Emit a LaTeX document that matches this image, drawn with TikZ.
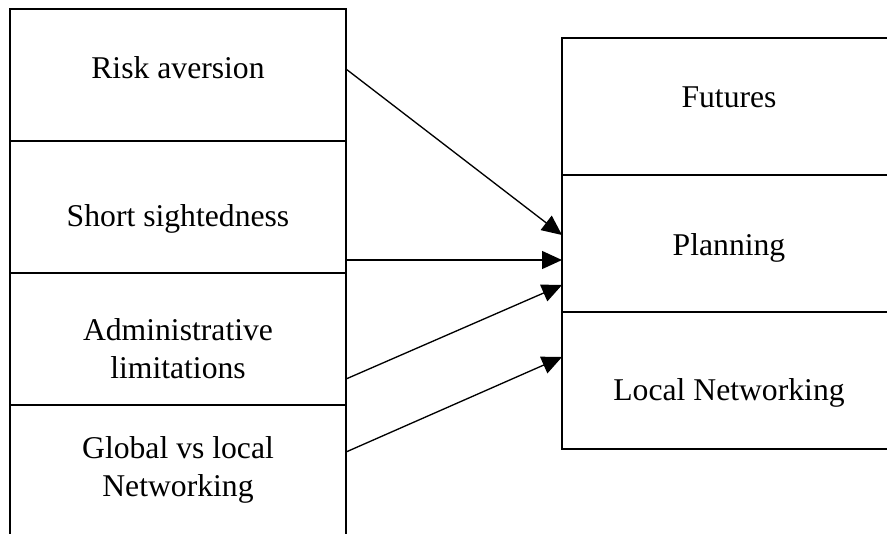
\documentclass[tikz,border=0pt]{standalone}
\usepackage{fontspec}
\setmainfont{Liberation Serif}
\usetikzlibrary{arrows.meta}
\begin{document}
\begin{tikzpicture}[x=0.75pt,y=-0.75pt,
  cell/.style={draw, line width=1.2pt, inner sep=0pt, outer sep=0pt, anchor=north west, minimum width=#1},
  lcell/.style={cell=252pt},
  rcell/.style={cell=255pt},
  lbl/.style={font=\fontsize{23.75}{28.5}\selectfont, align=center, anchor=base, inner sep=0pt},
  arr/.style={line width=1pt, -{Triangle[length=15pt,width=13.5pt]}}]
\useasboundingbox (0,0) rectangle (887,533);
\clip (0,0) rectangle (887,533);
% left column
\node[lcell, minimum height=99pt] (risk) at (10,9) {};
\node[lcell, minimum height=99pt] (short) at (10,141) {};
\node[lcell, minimum height=99pt] (admin) at (10,273) {};
\node[lcell, minimum height=120pt] (global) at (10,405) {};
% right column
\node[rcell, minimum height=102.75pt] (futures) at (562,38) {};
\node[rcell, minimum height=102.75pt] (planning) at (562,175) {};
\node[rcell, minimum height=102.75pt] (localnet) at (562,312) {};
% labels
\node[lbl] (trisk) at (178,78) {Risk aversion};
\node[lbl] (tshort) at (178,226) {Short sightedness};
\node[lbl] (tadmin) at (178,378) {Administrative\\limitations};
\node[lbl] (tglobal) at (178,496) {Global vs local\\Networking};
\node[lbl] (tfutures) at (729,107) {Futures};
\node[lbl] (tplanning) at (729,255) {Planning};
\node[lbl] (tlocal) at (729,400) {Local Networking};
% arrows
\draw[arr] (risk.east |- 0,69) -- (planning.west |- 0,235);
\draw[arr] (short.east |- 0,260) -- (planning.west |- 0,260);
\draw[arr] (admin.east |- 0,379) -- (planning.west |- 0,285);
\draw[arr] (global.east |- 0,452) -- (localnet.west |- 0,357);
\end{tikzpicture}
\end{document}
